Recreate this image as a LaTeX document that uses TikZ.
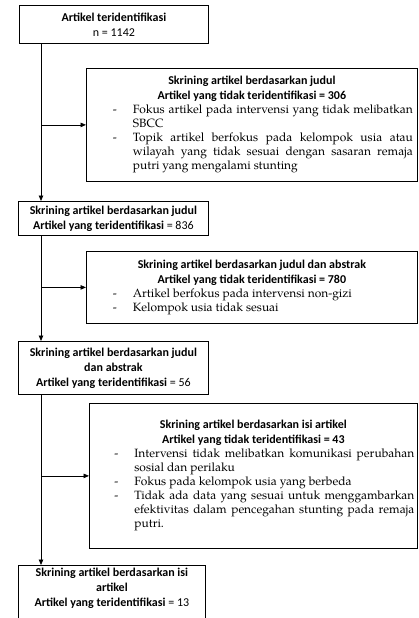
\documentclass[tikz,border=0pt]{standalone}
\usepackage{fontspec}
\setmainfont{TeX Gyre Pagella}
\setsansfont{Carlito}
\usetikzlibrary{arrows.meta}
\newlength\dashind \setlength\dashind{22pt}
\newlength\txtind \setlength\txtind{42pt}
\newcommand\blt[1]{\noindent\hangindent=\txtind\hangafter=1\makebox[\txtind][l]{\hspace*{\dashind}-}#1\par}
\newcommand\exhead[2]{{\centering\sffamily\bfseries\fontsize{12}{15}\selectfont #1\\ #2\par}}
\begin{document}
\begin{tikzpicture}[x=1pt,y=-1pt,line width=0.8pt,
  mainbox/.style={draw,rectangle,anchor=north west,align=center,inner sep=0pt,
    font=\sffamily\fontsize{12}{15}\selectfont},
  exbox/.style={draw,rectangle,anchor=north west,text width=322pt,align=justify,inner sep=0pt,
    font=\fontsize{12}{14}\selectfont},
  arr/.style={-{Triangle[length=5.5pt,width=4.5pt]}}]
\useasboundingbox (0,0) rectangle (418,618);
\coordinate (L) at (41,0);

\node[mainbox,minimum width=189pt,minimum height=38pt] (b1) at (19,5)
  {\textbf{Artikel teridentifikasi}\\ n = 1142};

\node[exbox,minimum width=331pt,minimum height=113pt] (e1) at (86,68)
  {\exhead{Skrining artikel berdasarkan judul}{Artikel yang tidak teridentifikasi = 306}%
   \blt{Fokus artikel pada intervensi yang tidak melibatkan\linebreak SBCC}%
   \blt{Topik artikel berfokus pada kelompok usia atau\linebreak wilayah yang tidak sesuai dengan sasaran remaja\linebreak putri yang mengalami stunting}};

\node[mainbox,minimum width=190pt,minimum height=34pt] (b3) at (18,201)
  {\textbf{Skrining artikel berdasarkan judul}\\ \textbf{Artikel yang teridentifikasi} = 836};

\node[exbox,minimum width=331pt,minimum height=72pt] (e2) at (86,251)
  {\exhead{Skrining artikel berdasarkan judul dan abstrak}{Artikel yang tidak teridentifikasi = 780}%
   \blt{Artikel berfokus pada intervensi non-gizi}%
   \blt{Kelompok usia tidak sesuai}};

\node[mainbox,minimum width=190pt,minimum height=53pt] (b5) at (18,341)
  {\textbf{Skrining artikel berdasarkan judul}\\ \textbf{dan abstrak}\\ \textbf{Artikel yang teridentifikasi} = 56};

\node[exbox,minimum width=328pt,minimum height=145pt] (e3) at (89,403)
  {\exhead{Skrining artikel berdasarkan isi artikel}{Artikel yang tidak teridentifikasi = 43}%
   \blt{Intervensi tidak melibatkan komunikasi perubahan\linebreak sosial dan perilaku}%
   \blt{Fokus pada kelompok usia yang berbeda}%
   \blt{Tidak ada data yang sesuai untuk menggambarkan\linebreak efektivitas dalam pencegahan stunting pada remaja\linebreak putri.}};

\node[mainbox,minimum width=187pt,inner ysep=3pt] (b7) at (18,565)
  {\textbf{Skrining artikel berdasarkan isi}\\ \textbf{artikel}\\ \textbf{Artikel yang teridentifikasi} = 13\\ \strut};

\draw[arr] (b1.south -| L) -- (b3.north -| L);
\draw[arr] (L |- e1.west) -- (e1.west);
\draw[arr] (b3.south -| L) -- (b5.north -| L);
\draw[arr] (L |- e2.west) -- (e2.west);
\draw[arr] (b5.south -| L) -- (b7.north -| L);
\draw[arr] (L |- e3.west) -- (e3.west);
\end{tikzpicture}
\end{document}
